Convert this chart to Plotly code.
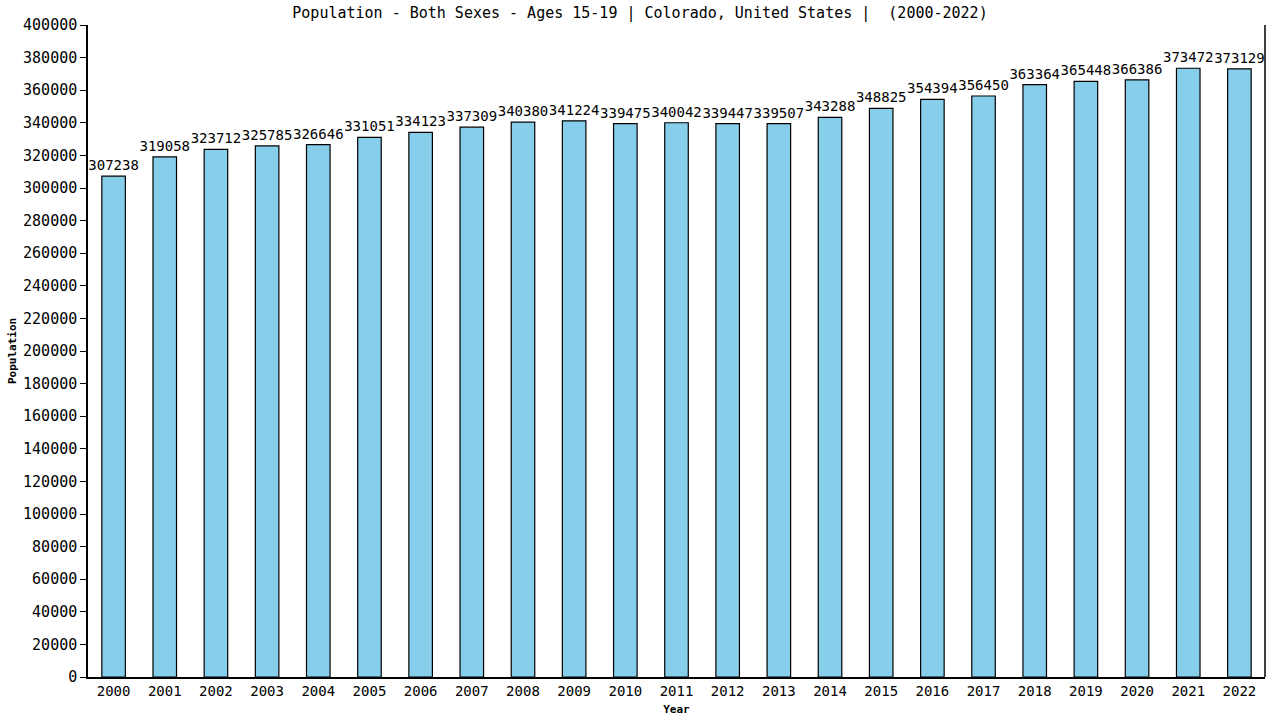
import plotly.graph_objects as go

FONT = "DejaVu Sans Mono, monospace"
BAR_FILL = "#87ceeb"

years = [str(y) for y in range(2000, 2023)]
population = [
    307238, 319058, 323712, 325785, 326646, 331051, 334123, 337309,
    340380, 341224, 339475, 340042, 339447, 339507, 343288, 348825,
    354394, 356450, 363364, 365448, 366386, 373472, 373129,
]
y_ticks = list(range(0, 400001, 20000))

fig = go.Figure()

fig.add_trace(go.Bar(
    x=years, y=population,
    width=0.46,
    marker=dict(color=BAR_FILL, line=dict(color="#000000", width=1.2)),
    text=[str(v) for v in population],
    textposition="outside",
    textangle=0,
    constraintext="none",
    cliponaxis=False,
    textfont=dict(family=FONT, size=14, color="#000000"),
    hoverinfo="x+y",
))

fig.update_layout(
    width=1280, height=720,
    paper_bgcolor="#ffffff",
    plot_bgcolor="#ffffff",
    font=dict(family=FONT, color="#000000"),
    title=dict(
        text="Population - Both Sexes - Ages 15-19 | Colorado, United States |  (2000-2022)",
        font=dict(family=FONT, size=15, color="#000000"),
        x=0.5, xanchor="center", y=0.982, yanchor="middle",
    ),
    margin=dict(l=88, r=15, t=25, b=43, autoexpand=False),
    showlegend=False,
    xaxis=dict(
        type="category",
        range=[-0.5, 22.5],
        automargin=False,
        showgrid=False,
        showline=True, linecolor="#000000", linewidth=1.5,
        ticks="", tickfont=dict(family=FONT, size=14),
        title=dict(text="<b>Year</b>", font=dict(family=FONT, size=11), standoff=8),
    ),
    yaxis=dict(
        range=[0, 400000],
        automargin=False,
        tickvals=y_ticks,
        ticktext=[str(v) for v in y_ticks],
        showgrid=False, zeroline=False,
        showline=True, linecolor="#000000", linewidth=1.5,
        ticks="outside", ticklen=6, tickcolor="#000000",
        tickfont=dict(family=FONT, size=15),
        title=dict(text="<b>Population</b>", font=dict(family=FONT, size=11), standoff=4),
    ),
)

# right-hand frame line (no top line in the reference)
fig.add_shape(type="line", xref="paper", yref="paper",
              x0=1, x1=1, y0=0, y1=1,
              line=dict(color="#000000", width=1.5))

# drop the browser's default 8px body margin so the figure sits at 0,0
fig.write_html("out.html", config={"displayModeBar": False},
               post_script="document.body.style.margin='0';")
